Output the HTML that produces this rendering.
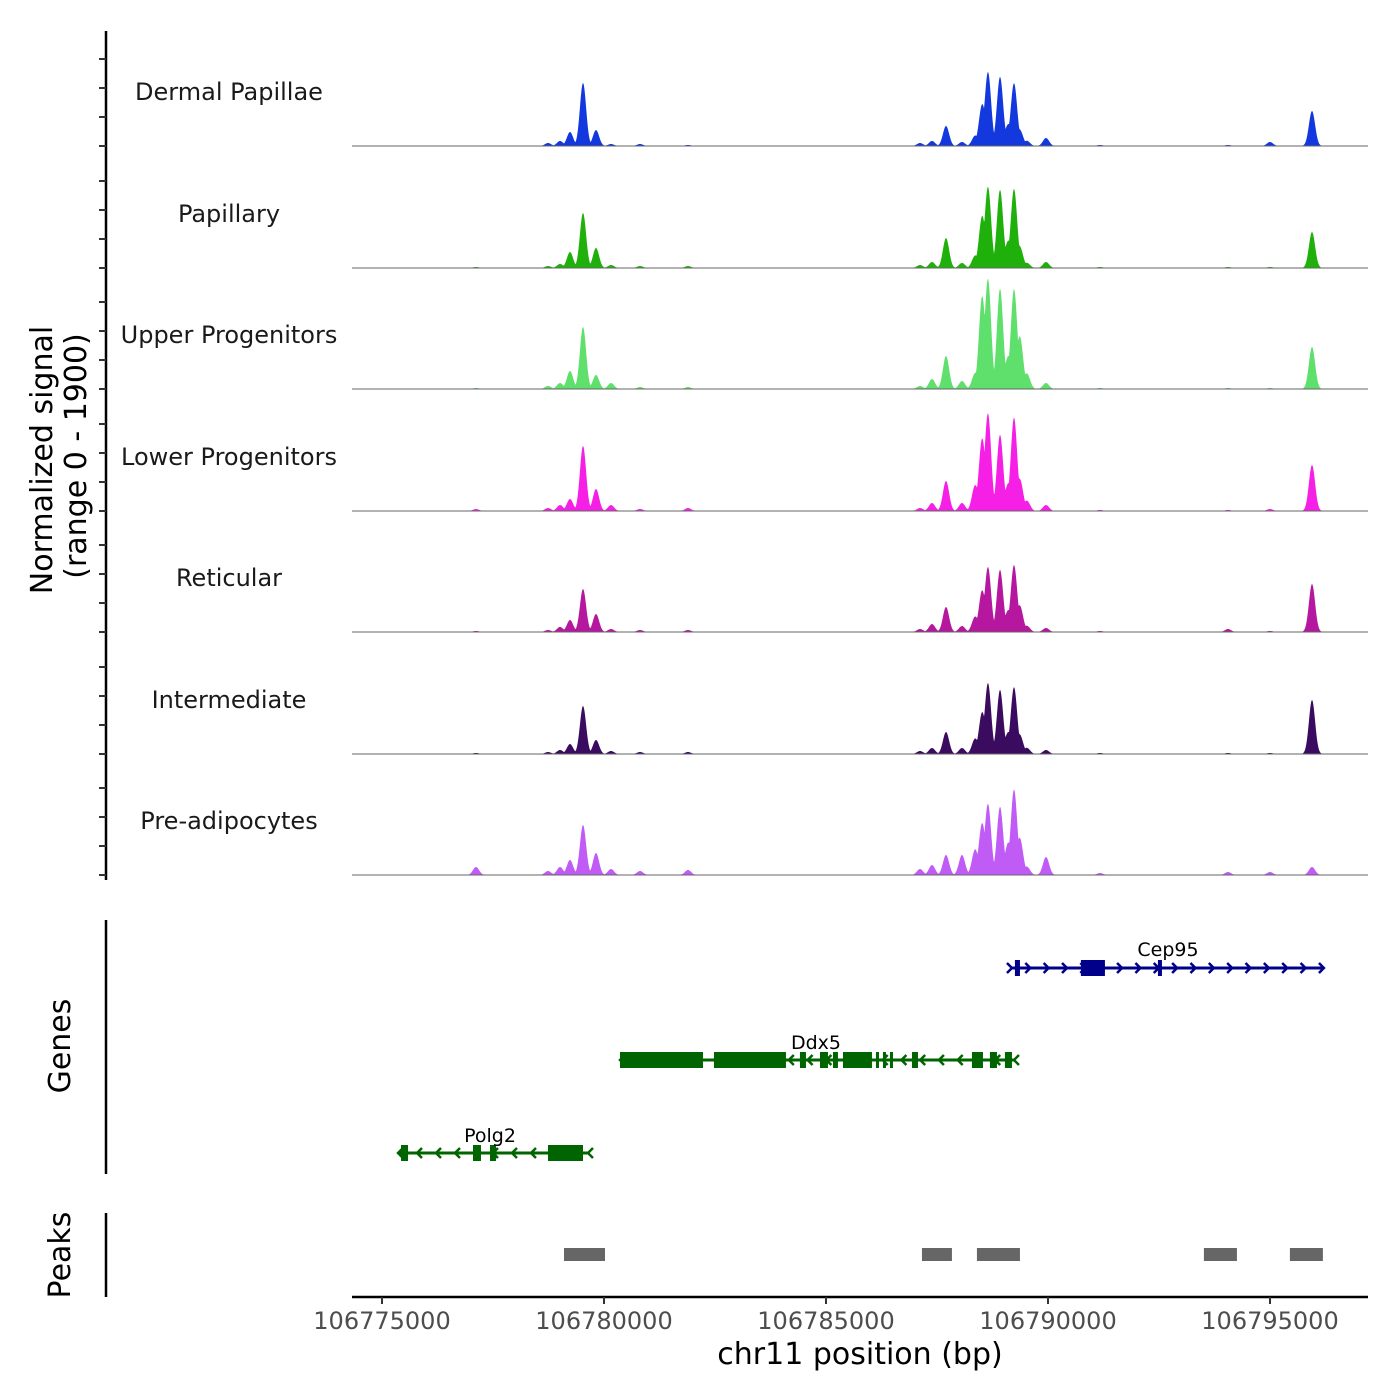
<!DOCTYPE html>
<html><head><meta charset="utf-8"><style>
html,body{margin:0;padding:0;background:#fff;}
svg{display:block;font-family:"DejaVu Sans","Liberation Sans",sans-serif;}
</style></head><body>
<svg id="chart" width="1400" height="1400" viewBox="0 0 1400 1400" xmlns="http://www.w3.org/2000/svg">
<rect width="1400" height="1400" fill="#fff"/>
<g id="tracks"></g>
<g id="genes"></g>
<g id="peaks"></g>
<g id="axes"></g>
<text transform="translate(52,460) rotate(-90)" text-anchor="middle" font-size="30" fill="#000">Normalized signal</text>
<text transform="translate(86,456) rotate(-90)" text-anchor="middle" font-size="30" fill="#000">(range 0 - 1900)</text>
<text transform="translate(70,1046) rotate(-90)" text-anchor="middle" font-size="30" fill="#000">Genes</text>
<text transform="translate(70,1255) rotate(-90)" text-anchor="middle" font-size="30" fill="#000">Peaks</text>
<text x="860" y="1364" text-anchor="middle" font-size="30" fill="#000">chr11 position (bp)</text>
</svg>
<script>
const trackNames = ["Dermal Papillae","Papillary","Upper Progenitors","Lower Progenitors","Reticular","Intermediate","Pre-adipocytes"];
const trackColors = ["#1238de","#20b00c","#5fdf6b","#f51fe6","#b5189f","#3a0b5e","#c05cf5"];
const peakPos = [106778739,106779009,106779234,106779527,106779820,106780158,106780811,106781892,106787117,106787387,106787703,106788063,106788356,106788514,106788649,106788919,106789099,106789234,106789369,106789527,106789955,106791171,106794054,106795000,106795946,106777117];
const sigDP  = [47,79,220,990,250,31,31,16,47,79,314,63,157,628,1146,1083,314,973,236,79,126,16,16,63,550,0];
const sigPap = [31,63,251,864,314,47,31,31,47,94,471,79,188,785,1256,1225,393,1225,314,79,94,16,16,16,565,16];
const sigUP  = [47,94,283,973,220,94,31,31,47,157,518,126,236,1413,1696,1570,471,1539,785,236,94,16,16,16,659,16];
const sigLP  = [47,94,188,1021,345,94,31,47,47,126,471,126,393,1099,1507,1193,393,1444,471,157,94,16,16,31,722,31];
const sigRet = [31,79,188,675,283,47,31,31,47,126,393,94,236,628,1005,973,314,1036,393,94,63,16,47,16,754,16];
const sigInt = [31,63,157,754,220,47,31,31,47,94,345,94,236,628,1099,1005,314,1036,283,94,63,16,16,16,848,16];
const sigPre = [63,126,236,785,345,94,63,79,94,157,314,314,393,785,1099,1068,471,1319,550,126,283,31,47,47,126,126];
const signals = [sigDP,sigPap,sigUP,sigLP,sigRet,sigInt,sigPre];
const xTicks = [106775000,106780000,106785000,106790000,106795000];
const cep95Range = [106789188,106796214];
const cep95Exons = [[106789255,106789368],[106790741,106791282],[106792476,106792566]];
const ddx5Range = [106780360,106789233];
const ddx5Exons = [[106780360,106782229],[106782477,106784098],[106784413,106784548],[106784864,106785044],[106785157,106785269],[106785382,106786035],[106786125,106786193],[106786283,106786350],[106786440,106786508],[106786936,106787071],[106788287,106788535],[106788692,106788850],[106789030,106789188]];
const polg2Range = [106775360,106779639];
const polg2Exons = [[106775428,106775586],[106777049,106777229],[106777432,106777567],[106778738,106779527]];
const peakRegions = [[106779099,106780022],[106787161,106787836],[106788399,106789368],[106793511,106794255],[106795448,106796191]];

const NS="http://www.w3.org/2000/svg";
const X0=352,X1=1368, BP0=106774324, BP1=106797207;
const xs = bp => X0 + (bp-BP0)/(BP1-BP0)*(X1-X0);
const baselines=[146,268,389,511,632,754,875];
const trackH=121, YMAX=1900;
const ys = (v,b) => b - v/YMAX*trackH;
function el(tag,attrs,parent){const e=document.createElementNS(NS,tag);for(const k in attrs)e.setAttribute(k,attrs[k]);parent.appendChild(e);return e;}

const tracks=document.getElementById('tracks');
const sigma=70;
signals.forEach((sig,t)=>{
  const b=baselines[t];
  let d="M"+X0+","+b;
  for(let px=X0;px<=X1;px+=0.5){
    const bp=BP0+(px-X0)/(X1-X0)*(BP1-BP0);
    let v=0, s=0;
    for(let i=0;i<peakPos.length;i++){const z=(bp-peakPos[i])/sigma;const g=sig[i]*Math.exp(-0.5*z*z);if(g>v)v=g;s+=g;}
    v=Math.min(v+0.15*(s-v),YMAX);
    d+=" L"+px.toFixed(1)+","+ys(v,b).toFixed(2);
  }
  d+=" L"+X1+","+b+" Z";
  const p=el('path',{d:d,fill:trackColors[t]},tracks);
  
  
  const l=el('line',{x1:X0,x2:X1,y1:b,y2:b,stroke:'#666','stroke-width':1},tracks);
  
  
  const tx=el('text',{x:229,y:b-46,'text-anchor':'middle','font-size':24,fill:'#1a1a1a'},tracks);
  tx.textContent=trackNames[t];
  
  
});

const genes=document.getElementById('genes');
function drawGene(name,range,exons,y,color,dir,labelX,labelY){
  const g=el('g',{},genes);
  
  
  const a=xs(range[0]),b=xs(range[1]);
  el('line',{x1:a,x2:b,y1:y,y2:y,stroke:color,'stroke-width':3},g);
  const n=Math.max(2,Math.round((b-a)/18.5));
  for(let i=0;i<=n;i++){
    const x=a+(b-a)*i/n;
    const dx=dir>0?-5:5;
    el('polyline',{points:(x+dx)+","+(y-5)+" "+x+","+y+" "+(x+dx)+","+(y+5),fill:'none',stroke:color,'stroke-width':2.5},g);
  }
  exons.forEach(e=>{
    const ex=el('rect',{x:xs(e[0]),y:y-8,width:Math.max(3,xs(e[1])-xs(e[0])),height:16,fill:color},g);
    
    
  });
  const t=el('text',{x:labelX,y:labelY,'text-anchor':'middle','font-size':19,fill:'#000'},g);
  t.textContent=name;
}
drawGene('Cep95',cep95Range,cep95Exons,968,'#00008b',1,1168,956);
drawGene('Ddx5',ddx5Range,ddx5Exons,1060,'#006400',-1,816,1049);
drawGene('Polg2',polg2Range,polg2Exons,1153,'#006400',-1,490,1142);

const peaks=document.getElementById('peaks');
peakRegions.forEach(r=>{
  const rc=el('rect',{x:xs(r[0]),y:1248,width:xs(r[1])-xs(r[0]),height:13,fill:'#666'},peaks);
  
  
});

const axes=document.getElementById('axes');
el('line',{x1:106,x2:106,y1:31,y2:880,stroke:'#000','stroke-width':2.5},axes);
baselines.forEach(b=>{for(let k=0;k<4;k++){const y=b-k*29;el('line',{x1:99,x2:106,y1:y,y2:y,stroke:'#333','stroke-width':2},axes);}});
el('line',{x1:106,x2:106,y1:920,y2:1174,stroke:'#000','stroke-width':2.5},axes);
el('line',{x1:106,x2:106,y1:1213,y2:1297,stroke:'#000','stroke-width':2.5},axes);
el('line',{x1:X0,x2:X1,y1:1297,y2:1297,stroke:'#000','stroke-width':2.5},axes);
xTicks.forEach(v=>{
  const x=xs(v);
  el('line',{x1:x,x2:x,y1:1297,y2:1304,stroke:'#333','stroke-width':2},axes);
  const t=el('text',{x:x,y:1329,'text-anchor':'middle','font-size':24,fill:'#4d4d4d'},axes);
  t.textContent=v;
  
  
});
</script>
</body></html>
